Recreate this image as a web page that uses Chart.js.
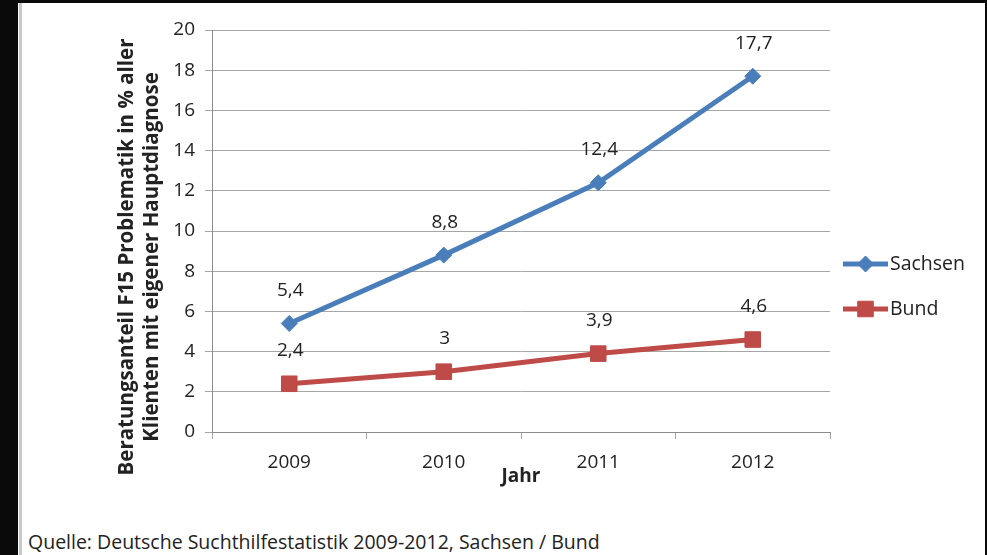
<!DOCTYPE html>
<html>
<head>
<meta charset="utf-8">
<script src="https://cdn.jsdelivr.net/npm/chart.js@4/dist/chart.umd.min.js"></script>
<style>
html, body { margin: 0; padding: 0; background: #fff; }
body { width: 987px; height: 555px; position: relative; overflow: hidden; font-family: "Open Sans", sans-serif; }
#head { position: absolute; left: 352px; top: -19px; font-weight: bold; font-size: 20px; color: #444; white-space: nowrap; }
#frameT { position: absolute; left: 0; top: 0; width: 987px; height: 3px; background: #0a0a0a; }
#frameL { position: absolute; left: 0; top: 0; width: 18px; height: 555px; background: #0a0a0a; }
#frameLine { position: absolute; left: 19px; top: 3px; width: 3px; height: 552px; background: #c8c8c8; }
#frameR { position: absolute; right: 0; top: 0; width: 2px; height: 555px; background: #0a0a0a; }
#wrap { position: absolute; left: 22px; top: 3px; width: 960px; height: 510px; }
#source { position: absolute; left: 28px; top: 528px; font-size: 19.5px; color: #222; white-space: nowrap; }
</style>
</head>
<body>
<div id="head">der ambulanten Suchthilfe</div>
<div id="frameT"></div>
<div id="frameL"></div>
<div id="frameLine"></div>
<div id="frameR"></div>
<div id="wrap"><canvas id="chart"></canvas></div>
<div id="source">Quelle: Deutsche Suchthilfestatistik 2009-2012, Sachsen / Bund</div>
<script>
// Beratungsanteil F15, Sachsen vs. Bund
const years = ['2009', '2010', '2011', '2012'];
const sachsen = [5.4, 8.8, 12.4, 17.7];
const bund = [2.4, 3, 3.9, 4.6];
const yMin = 0;
const yMax = 20;
const yStep = 2;
const yTitle = ['Beratungsanteil F15 Problematik in % aller', 'Klienten mit eigener Hauptdiagnose'];

const blue = '#4a7ebb';
const red = '#be4b48';
const textColor = '#222';
const gridColor = '#a6a6a6';
const font = '"Open Sans", sans-serif';

// value labels above each point, German decimal comma
const valueLabels = {
    id: 'valueLabels',
    afterDatasetsDraw(chart) {
        const { ctx, data } = chart;
        ctx.save();
        ctx.font = '19px ' + font;
        ctx.fillStyle = textColor;
        ctx.textAlign = 'center';
        ctx.textBaseline = 'middle';
        data.datasets.forEach((ds, i) => {
            chart.getDatasetMeta(i).data.forEach((pt, j) => {
                const txt = String(ds.data[j]).replace('.', ',');
                ctx.fillText(txt, pt.x + 1, pt.y - 33);
            });
        });
        ctx.restore();
    }
};

// y axis title, rotated, sits a bit lower than the plot centre like the original
const yAxisTitle = {
    id: 'yAxisTitle',
    afterDraw(chart) {
        const { ctx } = chart;
        ctx.save();
        ctx.font = 'bold 20.5px ' + font;
        ctx.fillStyle = textColor;
        ctx.textAlign = 'center';
        ctx.textBaseline = 'middle';
        ctx.translate(105, 254);
        ctx.rotate(-Math.PI / 2);
        yTitle.forEach((line, i) => ctx.fillText(line, 0, i * 25));
        ctx.restore();
    }
};

// legend to the right: line sample with marker, then the name
const sideLegend = {
    id: 'sideLegend',
    afterDraw(chart) {
        const { ctx, data } = chart;
        const x0 = chart.chartArea.right + 13;
        const x1 = x0 + 45;
        const rows = [261, 306];
        ctx.save();
        data.datasets.forEach((ds, i) => {
            const y = rows[i];
            ctx.strokeStyle = ds.borderColor;
            ctx.lineWidth = 5;
            ctx.beginPath();
            ctx.moveTo(x0, y);
            ctx.lineTo(x1, y);
            ctx.stroke();
            ctx.fillStyle = ds.backgroundColor;
            ctx.strokeStyle = ds.borderColor;
            ctx.lineWidth = 1;
            Chart.helpers.drawPoint(ctx, { pointStyle: ds.pointStyle, radius: ds.pointRadius, borderWidth: 1 }, (x0 + x1) / 2, y);
            ctx.font = '19.5px ' + font;
            ctx.fillStyle = textColor;
            ctx.textAlign = 'left';
            ctx.textBaseline = 'middle';
            ctx.fillText(ds.label, x1 + 2, y);
        });
        ctx.restore();
    }
};

new Chart(document.getElementById('chart'), {
    type: 'line',
    data: {
        labels: years,
        datasets: [{
            label: 'Sachsen',
            data: sachsen,
            borderColor: blue,
            backgroundColor: blue,
            borderWidth: 5,
            pointStyle: 'rectRot',
            pointRadius: 8,
            pointHoverRadius: 8,
            pointBorderWidth: 1
        }, {
            label: 'Bund',
            data: bund,
            borderColor: red,
            backgroundColor: red,
            borderWidth: 5,
            pointStyle: 'rect',
            pointRadius: 11,
            pointHoverRadius: 11,
            pointBorderWidth: 1
        }]
    },
    options: {
        responsive: true,
        maintainAspectRatio: false,
        animation: false,
        layout: { padding: { left: 92, right: 152, top: 27, bottom: 25 } },
        plugins: {
            legend: { display: false },
            tooltip: { enabled: false }
        },
        scales: {
            x: {
                offset: true,
                grid: { offset: true, drawOnChartArea: false, drawTicks: true, tickLength: 7, color: gridColor },
                border: { display: true, color: '#8c8c8c' },
                ticks: { color: textColor, font: { family: font, size: 19 }, padding: 12 },
                title: { display: true, text: 'Jahr', color: textColor, font: { family: font, size: 19, weight: 'bold' }, padding: 0 },
                afterFit(scale) { scale.height = 56; }
            },
            y: {
                min: yMin,
                max: yMax,
                ticks: { stepSize: yStep, color: textColor, font: { family: font, size: 19 }, padding: 10 },
                grid: { color: gridColor, tickLength: 7 },
                border: { display: true, color: '#8c8c8c' },
                title: { display: false },
                afterFit(scale) { scale.width = 190 - 92; }
            }
        }
    },
    plugins: [valueLabels, yAxisTitle, sideLegend]
});
</script>
</body>
</html>
